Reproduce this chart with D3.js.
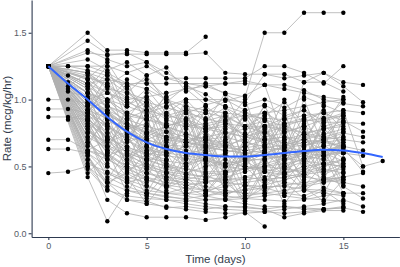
<!DOCTYPE html>
<html>
<head>
<meta charset="utf-8">
<script src="https://cdn.jsdelivr.net/npm/d3@7"></script>
<style>
  body { margin: 0; background: #fff; }
  .axis path, .axis line { stroke: #2e3a50; stroke-width: 1.1; }
  .axis text { fill: #555b66; font-family: "Liberation Sans", Arial, sans-serif; font-size: 9px; }
  .axis-title { fill: #333d4d; font-family: "Liberation Sans", Arial, sans-serif; font-size: 11.5px; }
</style>
</head>
<body>
<svg id="chart"></svg>
<script>
const n = null;

// one row per subject, values for day 0 .. day 17 (null = no measurement)
const rates = [
  [1.25,n,1.5,1.37,1.37,1.35,1.35,1.35,1.47,n,n,n,n,n,n,n,n,n],
  [1.25,n,1.44,1.34,1.34,1.34,1.34,1.34,1.35,1.2,1.19,1.19,1.19,1.13,1.2,1.13,1.11,n],
  [1.25,n,1.37,1.3,1.25,1.28,1.16,1.12,1.1,1.05,1.02,1.5,1.5,1.65,1.65,1.65,n,n],
  [1.25,1.25,1.25,1.25,1.2,1.25,1.16,1.16,1.16,1.16,1.16,1.25,1.25,1.2,1.12,1.25,n,n],
  [1.25,1.18,1.12,1.15,1.12,1.12,1.12,1.12,1.12,1.12,1.12,1.11,1.11,1.07,1.0,0.97,0.95,n],
  [1.25,1.13,1.05,1.0,0.95,0.9,0.95,1.0,1.0,1.0,0.98,1.19,1.16,1.18,1.2,1.1,0.98,n],
  [1.25,1.1,1.2,1.08,1.05,1.0,0.62,0.93,0.9,0.99,1.03,1.11,0.7,1.13,1.13,1.06,n,n],
  [1.0,1.0,0.97,0.9,0.8,0.75,0.8,0.85,0.9,0.87,0.8,0.75,0.8,0.85,0.83,0.83,0.82,n],
  [0.93,0.93,0.9,0.82,0.7,0.62,0.6,0.65,0.7,0.72,0.68,0.65,0.62,0.6,0.58,0.62,0.5,0.54],
  [0.87,0.87,0.85,0.75,0.6,0.55,0.5,0.45,0.5,0.55,0.5,0.48,0.45,0.5,0.52,0.5,n,n],
  [0.7,0.7,0.62,0.58,0.5,0.45,0.42,0.4,0.38,0.4,0.42,0.4,0.38,0.36,0.4,0.42,0.45,n],
  [0.63,0.63,0.6,0.25,0.15,0.12,0.12,0.12,0.1,0.12,0.16,0.05,n,n,n,n,n,n],
  [0.45,0.46,0.5,0.33,0.25,0.24,0.19,0.2,0.18,0.2,0.19,0.18,0.2,0.19,0.18,0.19,0.16,n],
  [1.25,1.08,0.87,0.7,0.6,0.55,0.5,0.48,0.45,0.44,0.62,0.4,0.42,0.64,0.42,0.4,n,n],
  [1.25,n,0.42,0.09,0.32,0.3,0.28,0.25,0.22,0.2,0.2,0.18,0.12,0.15,0.17,0.17,n,n],
  [1.25,n,0.8,0.6,0.5,0.4,0.35,0.3,0.28,0.25,0.22,0.2,0.2,0.18,0.18,0.19,n,n],
  [1.25,n,1.0,0.85,0.75,0.7,0.65,0.62,0.6,0.58,0.55,0.55,0.58,0.6,0.62,0.6,0.58,n],
  [1.25,n,1.1,1.0,0.9,0.85,0.8,0.75,0.7,0.68,0.9,0.72,0.75,0.8,0.85,0.9,n,n],
  [1.25,n,0.95,0.8,0.7,0.6,0.55,0.82,0.5,0.52,0.55,0.6,0.65,0.68,0.7,0.72,n,n],
  [1.25,n,0.9,0.7,0.55,0.45,0.4,0.38,0.35,0.32,0.3,0.3,0.32,0.35,0.38,0.4,n,n],
  [1.25,n,0.7,0.5,0.4,0.35,0.3,0.28,0.25,0.25,0.26,0.28,0.3,0.32,0.3,0.28,n,n],
  [1.25,n,1.2,1.15,1.05,0.95,0.85,0.8,0.78,0.75,0.72,0.7,0.68,0.65,0.7,0.75,0.72,n],
  [1.25,n,1.05,0.9,0.78,0.65,0.6,0.58,0.55,0.5,0.48,0.5,0.52,0.55,0.58,0.6,n,n],
  [1.25,n,0.6,0.45,0.38,0.32,0.3,0.3,0.32,0.35,0.38,0.4,0.42,0.45,0.48,0.45,n,n],
  [1.25,n,0.85,0.65,0.52,0.48,0.45,0.42,0.4,0.38,0.36,0.35,0.35,0.33,0.32,0.3,0.3,n],
  [1.25,n,n,0.95,0.82,0.75,0.7,0.68,0.66,0.64,0.62,0.64,0.66,0.7,0.74,0.78,n,n],
  [1.25,n,1.35,1.33,1.35,1.28,1.2,1.12,1.0,0.95,0.9,0.85,0.8,0.75,0.78,0.82,n,n],
  [1.25,n,1.12,1.05,1.0,1.02,1.05,1.08,1.1,1.12,1.14,1.11,1.08,1.05,1.02,1.0,n,n],
  [1.25,n,0.98,0.88,0.82,0.78,0.72,0.7,0.72,0.75,0.78,0.8,0.78,0.75,0.72,0.7,0.68,n],
  [1.25,n,0.75,0.62,0.55,0.5,0.46,0.44,0.42,0.45,0.48,0.5,0.48,0.46,0.5,0.55,n,n],
  [1.25,n,0.58,0.38,0.25,0.22,0.2,0.18,0.16,0.15,0.15,0.16,0.18,0.2,0.22,0.25,0.2,n],
  [1.25,n,0.48,0.32,0.28,0.26,0.25,0.24,0.25,0.26,0.28,0.3,0.28,0.26,0.25,0.24,n,n],
  [1.25,n,1.08,0.95,0.88,0.85,0.82,0.8,0.82,0.85,0.88,0.9,0.92,0.95,0.98,1.0,n,n],
  [1.25,n,0.92,0.78,0.65,0.58,0.52,0.48,0.46,0.46,0.48,0.52,0.56,0.6,0.62,0.65,n,n],
  [1.25,n,0.82,0.72,0.62,0.56,0.54,0.52,0.55,0.6,0.65,0.7,0.72,0.7,0.68,0.65,0.62,n],
  [1.25,n,n,0.75,0.6,0.5,0.42,0.36,0.32,0.28,0.26,0.25,0.24,0.25,0.28,0.3,n,n],
  [1.25,n,1.15,1.05,0.98,0.92,0.88,0.85,0.8,0.76,0.72,0.68,0.64,0.62,0.6,0.6,n,n],
  [1.25,n,0.62,0.55,0.48,0.42,0.38,0.36,0.38,0.42,0.46,0.5,0.55,0.58,0.55,0.52,n,n],
  [1.25,n,0.88,0.8,0.72,0.68,0.64,0.6,0.56,0.52,0.5,0.46,0.44,0.42,0.4,0.38,0.35,n],
  [1.25,n,1.0,0.92,0.85,0.8,0.76,0.72,0.68,0.65,0.62,0.6,0.6,0.62,0.65,0.68,n,n],
  [1.25,n,0.5,0.38,0.32,0.28,0.25,0.22,0.2,0.18,0.17,0.16,0.15,0.16,0.18,0.2,n,n],
  [1.25,n,1.25,1.2,1.12,1.08,1.0,0.95,0.92,0.9,0.88,0.86,0.85,0.88,0.9,0.92,0.9,n],
  [1.25,n,0.78,0.66,0.58,0.52,0.48,0.45,0.42,0.4,0.4,0.42,0.45,0.48,0.52,0.55,n,n],
  [1.25,n,0.95,0.85,0.76,0.7,0.66,0.65,0.64,0.62,0.6,0.58,0.56,0.54,0.52,0.5,n,n],
  [1.25,n,1.02,0.9,0.82,0.76,0.72,0.68,0.65,0.62,0.6,0.62,0.64,0.66,0.68,0.7,n,n],
  [1.25,n,0.68,0.56,0.46,0.4,0.36,0.34,0.32,0.3,0.32,0.34,0.36,0.38,0.4,0.42,n,n],
  [1.25,n,1.18,1.1,1.02,0.98,0.94,0.9,0.86,0.82,0.8,0.8,0.82,0.84,0.86,0.88,n,n],
  [1.25,n,0.86,0.72,0.64,0.6,0.58,0.56,0.54,0.52,0.54,0.56,0.58,0.6,0.62,0.64,n,n],
  [1.25,n,0.55,0.42,0.35,0.3,0.27,0.26,0.28,0.3,0.33,0.36,0.4,0.44,0.46,0.48,n,n],
  [1.25,n,n,1.12,1.0,0.88,0.8,0.74,0.7,0.66,0.64,0.66,0.7,0.74,0.78,0.8,n,n],
  [1.25,n,0.9,1.12,0.7,0.96,0.55,0.85,0.6,0.95,0.5,0.8,0.45,0.7,0.9,0.6,n,n],
  [1.25,n,0.65,0.9,0.5,0.75,0.35,0.6,0.3,0.5,0.7,0.35,0.62,0.4,0.58,0.3,n,n],
  [1.25,n,1.1,0.6,0.95,0.45,0.8,0.4,0.7,0.3,0.65,0.9,0.5,0.85,0.4,0.7,n,n],
  [1.25,n,0.72,0.4,0.62,0.3,0.55,0.25,0.48,0.78,0.35,0.58,0.28,0.5,0.75,0.45,n,n],
  [1.25,n,1.05,1.2,0.85,1.05,0.68,0.98,0.58,0.82,1.0,0.62,0.9,0.55,0.8,1.02,n,n],
  [1.25,n,0.96,0.72,0.9,0.58,0.84,0.5,0.76,0.44,0.7,0.96,0.6,1.0,0.65,0.92,0.5,n],
  [1.25,n,0.8,0.55,0.75,0.45,0.65,0.95,0.4,0.62,0.32,0.6,0.85,0.45,0.66,0.38,n,n],
  [1.25,n,1.2,0.98,1.15,0.8,1.05,0.7,0.92,0.65,0.85,0.55,0.78,0.48,0.72,0.88,n,n],
  [1.25,n,0.58,0.35,0.52,0.28,0.45,0.7,0.38,0.58,0.25,0.5,0.22,0.42,0.62,0.35,0.26,n],
  [1.25,n,0.88,0.62,0.3,0.55,0.82,0.48,0.7,0.35,0.6,0.28,0.52,0.78,0.3,0.55,n,n],
  [1.25,n,1.0,0.78,0.52,0.85,0.6,0.38,0.66,0.9,0.52,0.75,0.42,0.68,0.95,0.6,n,n],
  [1.25,n,0.75,0.95,0.62,0.4,0.72,0.92,0.55,0.34,0.62,0.85,0.38,0.56,0.82,0.65,n,n],
  [1.25,n,1.12,0.82,0.65,0.98,0.76,0.52,0.85,0.62,0.9,0.7,1.0,0.74,0.52,0.86,n,n],
  [1.25,n,0.45,0.6,0.42,0.22,0.4,0.52,0.3,0.46,0.24,0.38,0.55,0.34,0.24,0.4,n,n],
  [1.25,n,0.85,0.52,0.7,0.88,0.42,0.66,0.78,0.45,0.68,0.4,0.62,0.88,0.58,0.76,n,n],
  [1.25,n,1.08,1.25,0.9,0.72,0.95,0.6,0.82,1.05,0.75,0.95,0.7,0.52,0.86,0.98,n,n],
  [1.25,n,0.68,0.85,0.45,0.6,0.32,0.55,0.72,0.42,0.22,0.48,0.68,0.35,0.52,0.72,n,n],
  [1.25,n,0.98,0.65,0.85,0.55,0.72,1.0,0.62,0.78,0.46,0.88,0.58,0.8,0.48,0.64,0.46,n],
  [1.25,n,0.78,0.6,0.48,0.52,0.45,0.4,n,n,n,n,n,n,n,n,n,n],
  [1.25,n,0.62,0.7,0.55,0.65,0.5,n,n,n,n,n,n,n,n,n,n,n],
  [1.25,n,1.15,0.92,0.8,0.7,0.76,0.68,0.72,0.6,n,n,n,n,n,n,n,n],
  [1.25,n,0.55,0.38,0.45,0.36,0.3,0.34,0.28,0.32,0.3,n,n,n,n,n,n,n],
  [1.25,n,0.92,1.0,0.86,0.92,0.8,0.84,0.78,0.82,0.74,0.8,0.76,n,n,n,n,n],
  [1.25,n,0.82,0.62,0.7,0.58,0.64,0.52,0.58,0.5,0.54,0.46,0.5,0.44,n,n,n,n],
  [1.25,1.06,1.02,0.95,0.9,0.86,0.9,0.82,0.78,0.8,0.74,0.7,0.72,0.66,0.7,0.64,n,n],
  [1.25,0.85,0.9,1.1,0.96,1.02,0.88,0.92,0.84,0.88,0.8,0.84,0.76,0.8,0.72,0.76,n,n],
  [1.25,1.25,1.22,1.18,1.1,1.15,1.02,1.08,0.96,1.0,0.92,0.96,0.88,0.92,0.84,0.88,n,n],
  [1.25,n,1.3,1.22,1.28,1.18,1.24,1.06,1.12,1.04,0.96,1.0,0.94,1.02,0.96,0.9,n,n],
  [1.25,n,1.16,1.28,1.05,1.18,0.98,1.1,1.04,0.94,0.86,0.9,0.82,0.86,0.9,0.84,n,n],
  [1.25,n,0.93,1.18,1.08,0.88,1.02,0.78,0.95,0.7,0.88,0.64,0.82,0.7,0.78,0.66,n,n],
  [1.25,n,1.05,0.98,1.1,0.92,0.98,0.86,0.74,0.9,0.66,0.78,0.6,0.72,0.56,0.68,n,n],
  [1.25,n,0.92,0.86,0.78,0.82,0.7,0.74,0.62,0.68,0.56,0.62,0.5,0.56,0.46,0.52,n,n],
  [1.25,n,0.84,0.7,0.76,0.64,0.58,0.66,0.52,0.6,0.48,0.54,0.44,0.5,0.4,0.46,n,n],
  [1.25,n,0.72,0.64,0.58,0.66,0.52,0.44,0.56,0.4,0.5,0.36,0.46,0.32,0.42,0.36,n,n],
  [1.25,n,0.52,0.46,0.4,0.48,0.36,0.42,0.3,0.38,0.26,0.34,0.3,0.28,0.34,0.3,n,n],
  [1.25,n,0.6,0.5,0.42,0.38,0.45,0.32,0.4,0.28,0.36,0.32,0.38,0.26,0.32,0.22,n,n],
  [1.25,n,1.0,1.05,0.95,1.08,0.9,1.0,0.85,0.94,0.8,0.88,0.98,0.82,0.92,0.78,n,n],
  [1.25,n,1.12,1.0,0.9,0.98,0.86,0.9,0.95,0.84,0.92,0.8,0.86,0.92,0.8,0.84,0.76,n],
  [1.25,n,0.76,0.68,0.74,0.62,0.7,0.58,0.64,0.7,0.58,0.66,0.54,0.6,0.66,0.56,n,n],
  [1.25,n,0.66,0.58,0.64,0.54,0.6,0.5,0.56,0.46,0.52,0.6,0.48,0.54,0.44,0.5,n,n],
  [1.25,n,1.2,1.1,1.2,1.12,1.0,0.9,0.8,0.84,0.72,0.76,0.66,0.7,0.62,0.66,n,n],
  [1.25,n,0.96,0.92,0.68,0.74,0.64,0.7,0.6,0.66,0.7,0.6,0.64,0.56,0.6,0.54,n,n],
  [1.25,n,0.84,0.96,0.82,0.72,0.8,0.68,0.76,0.64,0.72,0.78,0.66,0.74,0.7,0.62,n,n],
  [1.25,n,n,0.45,0.38,0.42,0.34,0.4,0.44,0.36,0.42,0.46,0.4,0.44,0.38,0.42,n,n]
];

// smoothed trend, day 0 .. day 17
const smoothFit = [1.25,1.12,1.0,0.87,0.76,0.68,0.63,0.6,0.585,0.575,0.575,0.585,0.6,0.615,0.625,0.62,0.6,0.57];

const xTicks = [0, 5, 10, 15];
const yTicks = [0, 0.5, 1.0, 1.5];

class SpaghettiPlot {
  constructor(_config) {
    this.config = {
      parentElement: _config.parentElement,
      containerWidth: _config.containerWidth || 400,
      containerHeight: _config.containerHeight || 267,
      margin: _config.margin || { top: 0, right: 0.6, bottom: 30, left: 31.6 }
    };
    this.initVis();
  }

  initVis() {
    let vis = this;
    vis.width = vis.config.containerWidth - vis.config.margin.left - vis.config.margin.right;
    vis.height = vis.config.containerHeight - vis.config.margin.top - vis.config.margin.bottom;

    vis.svg = d3.select(vis.config.parentElement)
      .attr("width", vis.config.containerWidth)
      .attr("height", vis.config.containerHeight);

    vis.chart = vis.svg.append("g")
      .attr("transform", `translate(${vis.config.margin.left},${vis.config.margin.top})`);

    vis.xScale = d3.scaleLinear().domain([-0.85, 17.85]).range([0, vis.width]);
    vis.yScale = d3.scaleLinear().domain([-0.028, 1.745]).range([vis.height, 0]);

    vis.xAxis = d3.axisBottom(vis.xScale).tickValues(xTicks)
      .tickSize(3).tickSizeOuter(0).tickPadding(3).tickFormat(d3.format("d"));
    vis.yAxis = d3.axisLeft(vis.yScale).tickValues(yTicks)
      .tickSize(3).tickSizeOuter(0).tickPadding(2).tickFormat(d3.format(".1f"));

    vis.linesG = vis.chart.append("g");
    vis.pointsG = vis.chart.append("g");
    vis.trendG = vis.chart.append("g");

    vis.xAxisG = vis.chart.append("g").attr("class", "axis x-axis")
      .attr("transform", `translate(0,${vis.height})`);
    vis.yAxisG = vis.chart.append("g").attr("class", "axis y-axis");

    vis.svg.append("text")
      .attr("class", "axis-title")
      .attr("x", vis.config.margin.left + vis.width / 2)
      .attr("y", 263)
      .attr("text-anchor", "middle")
      .text("Time (days)");

    vis.svg.append("text")
      .attr("class", "axis-title")
      .attr("transform", `translate(11,${vis.height / 2}) rotate(-90)`)
      .attr("text-anchor", "middle")
      .text("Rate (mcg/kg/hr)");
  }

  renderVis() {
    let vis = this;

    const subjects = rates.map(row =>
      row.map((v, day) => ({ day, v })).filter(d => d.v !== null));

    const line = d3.line()
      .x(d => vis.xScale(d.day))
      .y(d => vis.yScale(d.v));

    vis.linesG.selectAll(".subject")
      .data(subjects)
      .join("path")
      .attr("class", "subject")
      .attr("fill", "none")
      .attr("stroke", "#b0b0b0")
      .attr("stroke-width", 0.8)
      .attr("d", line);

    vis.pointsG.selectAll(".pt")
      .data(subjects.flat())
      .join("circle")
      .attr("class", "pt")
      .attr("cx", d => vis.xScale(d.day))
      .attr("cy", d => vis.yScale(d.v))
      .attr("r", 2.2)
      .attr("fill", "#000");

    const trend = smoothFit.map((v, day) => ({ day, v }));
    vis.trendG.append("path")
      .datum(trend)
      .attr("fill", "none")
      .attr("stroke", "#3366ff")
      .attr("stroke-width", 2)
      .attr("d", line.curve(d3.curveMonotoneX));

    vis.xAxisG.call(vis.xAxis);
    vis.yAxisG.call(vis.yAxis);
  }
}

const plot = new SpaghettiPlot({ parentElement: "#chart" });
plot.renderVis();
</script>
</body>
</html>
